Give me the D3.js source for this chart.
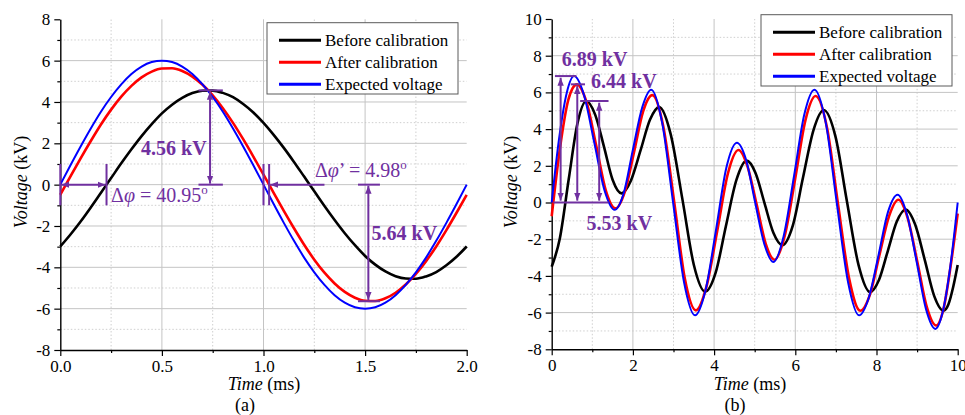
<!DOCTYPE html>
<html>
<head>
<meta charset="utf-8">
<script src="https://cdn.jsdelivr.net/npm/d3@7"></script>
<style>
body{margin:0;background:#fff}
svg{display:block}
svg text{font-family:'Liberation Serif','Times New Roman',Times,'DejaVu Serif',serif}
</style>
</head>
<body>
<script>
// ---- panel (a): 500 Hz test, 0..2 ms
const aTime = [0,0.05,0.1,0.15,0.2,0.25,0.3,0.35,0.4,0.45,0.5,0.55,0.6,0.65,0.7,0.75,0.8,0.85,0.9,0.95,
  1,1.05,1.1,1.15,1.2,1.25,1.3,1.35,1.4,1.45,1.5,1.55,1.6,1.65,1.7,1.75,1.8,1.85,1.9,1.95,2]
const aBefore = [-2.99,-2.41,-1.78,-1.10,-0.39,0.32,1.03,1.71,2.35,2.93,3.45,3.87,4.20,4.43,4.54,4.55,4.44,4.23,3.90,3.49,
  2.99,2.41,1.78,1.10,0.39,-0.32,-1.03,-1.71,-2.35,-2.93,-3.45,-3.87,-4.20,-4.43,-4.54,-4.55,-4.44,-4.23,-3.90,-3.49,-2.99]
const aAfter = [-0.49,0.40,1.27,2.11,2.91,3.63,4.26,4.78,5.19,5.47,5.62,5.63,5.50,5.23,4.83,4.32,3.70,2.99,2.20,1.36,
  0.49,-0.40,-1.27,-2.11,-2.91,-3.63,-4.26,-4.78,-5.19,-5.47,-5.62,-5.63,-5.50,-5.23,-4.83,-4.32,-3.70,-2.99,-2.20,-1.36,-0.49]
const aExpected = [0,0.94,1.85,2.72,3.53,4.24,4.85,5.35,5.71,5.93,6.00,5.93,5.71,5.35,4.85,4.24,3.53,2.72,1.85,0.94,
  0,-0.94,-1.85,-2.72,-3.53,-4.24,-4.85,-5.35,-5.71,-5.93,-6.00,-5.93,-5.71,-5.35,-4.85,-4.24,-3.53,-2.72,-1.85,-0.94,0]
const aXTicks = [0,0.5,1,1.5,2]
const aXMinor = [0.25,0.75,1.25,1.75]
const aYTicks = [-8,-6,-4,-2,0,2,4,6,8]
const aYMinor = [-7,-5,-3,-1,1,3,5,7]

// ---- panel (b): multi-tone test, 0..10 ms
const bBeforeT = [0,0.20,0.42,0.63,0.85,1.07,1.29,1.50,1.72,1.95,2.19,2.42,2.65,2.93,3.22,3.50,3.78,4.04,4.29,4.55,4.80,
  5.02,5.24,5.46,5.68,5.94,6.19,6.45,6.70,6.99,7.27,7.56,7.84,8.06,8.28,8.50,8.72,8.95,9.19,9.42,9.65,9.77,9.89,10]
const bBefore = [-3.5,-1.96,1.28,4.26,5.53,4.79,3.02,1.24,0.50,1.19,2.85,4.51,5.20,3.73,0.17,-3.39,-4.86,-3.81,-1.29,1.23,2.28,
  1.61,-0.02,-1.65,-2.32,-1.24,1.36,3.96,5.04,3.59,0.08,-3.43,-4.88,-4.22,-2.63,-1.04,-0.38,-1.19,-3.14,-5.09,-5.90,-5.56,-4.59,-3.4]
const bAfterT = [0,0.20,0.41,0.62,0.86,1.10,1.33,1.57,1.80,2.03,2.25,2.48,2.75,3.02,3.28,3.55,3.81,4.08,4.34,4.60,
  4.82,5.05,5.27,5.49,5.74,6.00,6.25,6.50,6.78,7.05,7.33,7.60,7.84,8.07,8.31,8.54,8.77,9.01,9.24,9.47,9.65,9.83,10]
const bAfter = [-0.75,2.9,5.6,6.44,5.45,3.06,0.67,-0.32,0.58,2.77,4.95,5.85,4.13,-0.02,-4.16,-5.88,-4.60,-1.51,1.58,2.86,
  1.98,-0.13,-2.24,-3.12,-1.81,1.34,4.49,5.80,4.09,-0.05,-4.19,-5.90,-5.01,-2.88,-0.74,0.15,-0.86,-3.28,-5.70,-6.70,-5.8,-3.4,-0.6]
const bExpectedT = [0,0.18,0.37,0.55,0.80,1.05,1.30,1.55,1.78,2.00,2.23,2.45,2.72,2.99,3.26,3.53,3.79,4.05,4.30,4.56,
  4.79,5.01,5.24,5.46,5.71,5.97,6.22,6.47,6.75,7.02,7.30,7.57,7.81,8.05,8.28,8.52,8.75,8.99,9.22,9.45,9.63,9.82,10]
const bExpected = [0,3.45,5.97,6.89,5.82,3.25,0.67,-0.40,0.56,2.88,5.19,6.15,4.35,0,-4.35,-6.15,-4.77,-1.45,1.88,3.26,
  2.31,0.01,-2.29,-3.24,-1.86,1.46,4.78,6.15,4.35,0,-4.35,-6.15,-5.19,-2.87,-0.54,0.42,-0.65,-3.24,-5.82,-6.89,-5.97,-3.45,0]
const bXTicks = [0,2,4,6,8,10]
const bXMinor = [1,3,5,7,9]
const bYTicks = [-8,-6,-4,-2,0,2,4,6,8,10]
const bYMinor = [-7,-5,-3,-1,1,3,5,7,9]

const seriesNames = ['Before calibration','After calibration','Expected voltage']
const seriesColors = ['#000000','#ff0000','#0000ff']
const purple = '#7030a0'

const svg = d3.select('body').append('svg').attr('width',965).attr('height',415)

svg.append('defs').append('marker')
    .attr('id','arr').attr('viewBox','0 0 10 10')
    .attr('refX',10).attr('refY',5)
    .attr('markerWidth',8).attr('markerHeight',8)
    .attr('markerUnits','userSpaceOnUse')
    .attr('orient','auto-start-reverse')
  .append('path').attr('d','M0,1L10,5L0,9Z').attr('fill',purple)

function panel(o){
  const x = d3.scaleLinear().domain(o.xDomain).range([o.left,o.right])
  const y = d3.scaleLinear().domain(o.yDomain).range([o.bottom,o.top])
  const g = svg.append('g')

  // grid
  const grid = g.append('g')
  grid.selectAll('.vx').data(o.xMinor).join('line')
      .attr('x1',d=>x(d)).attr('x2',d=>x(d)).attr('y1',o.bottom).attr('y2',o.top)
      .attr('stroke','#cfcfcf').attr('stroke-dasharray','1.5,2')
  grid.selectAll('.hy').data(o.yMinor).join('line')
      .attr('y1',d=>y(d)).attr('y2',d=>y(d)).attr('x1',o.left).attr('x2',o.right)
      .attr('stroke','#cfcfcf').attr('stroke-dasharray','1.5,2')
  grid.selectAll('.vmaj').data(o.xTicks.slice(1,-1)).join('line')
      .attr('x1',d=>x(d)).attr('x2',d=>x(d)).attr('y1',o.bottom).attr('y2',o.top)
      .attr('stroke','#c4c4c4')
  grid.selectAll('.hmaj').data(o.yTicks.slice(1,-1)).join('line')
      .attr('y1',d=>y(d)).attr('y2',d=>y(d)).attr('x1',o.left).attr('x2',o.right)
      .attr('stroke','#c4c4c4')

  // minor ticks
  g.append('g').attr('transform',`translate(0,${o.bottom})`)
      .call(d3.axisBottom(x).tickValues(o.xMinor).tickSize(3).tickFormat(''))
      .call(a=>a.select('.domain').remove())
  g.append('g').attr('transform',`translate(${o.left},0)`)
      .call(d3.axisLeft(y).tickValues(o.yMinor).tickSize(3).tickFormat(''))
      .call(a=>a.select('.domain').remove())

  // major axes
  g.append('g').attr('transform',`translate(0,${o.bottom})`)
      .call(d3.axisBottom(x).tickValues(o.xTicks).tickSize(6).tickSizeOuter(0).tickPadding(4).tickFormat(o.xFmt))
  g.append('g').attr('transform',`translate(${o.left},0)`)
      .call(d3.axisLeft(y).tickValues(o.yTicks).tickSize(6).tickSizeOuter(0).tickPadding(4).tickFormat(d=>String(d)))
  g.selectAll('.tick line').attr('stroke','#000').attr('stroke-width',1.2)
  g.selectAll('.domain').attr('stroke','#000').attr('stroke-width',1.4)
  g.selectAll('.tick text').attr('font-family',null).attr('font-size',17).attr('fill','#000')
  g.selectAll('g').attr('font-family',null)

  // curves
  const line = d3.line().x(d=>x(d[0])).y(d=>y(d[1])).curve(d3.curveMonotoneX)
  const widths = [2.6,2.6,2]
  o.series.forEach((s,i)=>{
    g.append('path').datum(d3.zip(s.t,s.v))
        .attr('fill','none').attr('stroke',seriesColors[i])
        .attr('stroke-width',widths[i]).attr('stroke-linejoin','round')
        .attr('d',line)
  })

  // axis titles
  const xt = g.append('text').attr('x',o.xTitle[0]).attr('y',o.xTitle[1])
      .attr('text-anchor','middle').attr('font-size',18)
  xt.append('tspan').attr('font-style','italic').text('Time')
  xt.append('tspan').text(' (ms)')
  g.append('text').attr('x',o.tag[0]).attr('y',o.tag[1])
      .attr('text-anchor','middle').attr('font-size',18).text(o.tagText)
  const yt = g.append('text')
      .attr('transform',`translate(${o.yTitle[0]},${o.yTitle[1]}) rotate(-90)`)
      .attr('text-anchor','middle').attr('font-size',18)
  yt.append('tspan').attr('font-style','italic').text('Voltage')
  yt.append('tspan').text(' (kV)')

  // legend
  const L = o.legend
  const lg = g.append('g')
  lg.append('rect').attr('x',L.x).attr('y',L.y).attr('width',L.w).attr('height',L.h)
      .attr('fill','#fff').attr('stroke','#5a5a5a').attr('stroke-width',1)
  seriesNames.forEach((n,i)=>{
    const cy = L.y + 17.5 + i*22
    lg.append('line').attr('x1',L.x+12).attr('x2',L.x+54).attr('y1',cy).attr('y2',cy)
        .attr('stroke',seriesColors[i]).attr('stroke-width',3)
    lg.append('text').attr('x',L.x+58).attr('y',cy+6).attr('font-size',17).text(n)
  })

  return {g,x,y}
}

// helpers for the purple annotations
function seg(p,x1,y1,x2,y2,m1,m2){
  const l = p.g.append('line')
      .attr('x1',p.x(x1)).attr('y1',p.y(y1)).attr('x2',p.x(x2)).attr('y2',p.y(y2))
      .attr('stroke',purple).attr('stroke-width',2)
  if(m1) l.attr('marker-start','url(#arr)')
  if(m2) l.attr('marker-end','url(#arr)')
}
function label(p,tx,ty,bold){
  return p.g.append('text').attr('x',p.x(tx)).attr('y',p.y(ty))
      .attr('fill',purple).attr('font-size',20).attr('font-weight',bold?'bold':'normal')
}

const pa = panel({
  left:60.3, right:466.7, top:19.3, bottom:350,
  xDomain:[0,2], yDomain:[-8,8],
  xTicks:aXTicks, xMinor:aXMinor, yTicks:aYTicks, yMinor:aYMinor,
  xFmt:d3.format('.1f'),
  series:[{t:aTime,v:aBefore},{t:aTime,v:aAfter},{t:aTime,v:aExpected}],
  xTitle:[264,390], tag:[245,411], tagText:'(a)', yTitle:[27,182],
  legend:{x:267,y:22.7,w:191,h:71.3}
})

// phase shift before calibration
seg(pa,0,1.0,0,-1.0); seg(pa,0.2275,1.0,0.2275,-1.0)
seg(pa,0.005,0,0.2225,0,true,true)
let t1 = label(pa,0.25,-0.82,false)
t1.append('tspan').text('Δ')
t1.append('tspan').attr('font-style','italic').text('φ')
t1.append('tspan').text(' = 40.95')
t1.append('tspan').attr('font-size',13).attr('dy',-8).text('o')
// amplitude before calibration
seg(pa,0.68,4.56,0.80,4.56); seg(pa,0.68,0,0.80,0)
seg(pa,0.737,4.5,0.737,0.05,true,true)
label(pa,0.72,1.44,true).attr('text-anchor','end').text('4.56 kV')
// phase shift after calibration
seg(pa,1.0,1.0,1.0,-1.0); seg(pa,1.0277,1.0,1.0277,-1.0)
seg(pa,1.30,0,1.033,0,false,true)
let t2 = label(pa,1.253,0.37,false)
t2.append('tspan').text('Δ')
t2.append('tspan').attr('font-style','italic').text('φ')
t2.append('tspan').text('’ = 4.98')
t2.append('tspan').attr('font-size',13).attr('dy',-8).text('o')
// amplitude after calibration
seg(pa,1.465,0,1.573,0); seg(pa,1.465,-5.64,1.573,-5.64)
seg(pa,1.516,-0.05,1.516,-5.58,true,true)
label(pa,1.532,-2.68,true).text('5.64 kV')

const pb = panel({
  left:551.7, right:957.7, top:19, bottom:349.3,
  xDomain:[0,10], yDomain:[-8,10],
  xTicks:bXTicks, xMinor:bXMinor, yTicks:bYTicks, yMinor:bYMinor,
  xFmt:d3.format('d'),
  series:[{t:bBeforeT,v:bBefore},{t:bAfterT,v:bAfter},{t:bExpectedT,v:bExpected}],
  xTitle:[750,390], tag:[735,411], tagText:'(b)', yTitle:[517,182],
  legend:{x:761,y:14.7,w:191,h:71.3}
})

seg(pb,0.04,0,1.40,0)
seg(pb,0.08,6.89,0.61,6.89)
seg(pb,0.47,6.44,0.82,6.44)
seg(pb,0.70,5.53,1.40,5.53)
seg(pb,0.22,0.1,0.22,6.8,true,true)
seg(pb,0.63,0.1,0.63,6.35,true,true)
seg(pb,1.17,0.1,1.17,5.44,true,true)
label(pb,0.25,7.44,true).text('6.89 kV')
label(pb,0.97,6.24,true).text('6.44 kV')
label(pb,0.86,-1.5,true).text('5.53 kV')
</script>
</body>
</html>
